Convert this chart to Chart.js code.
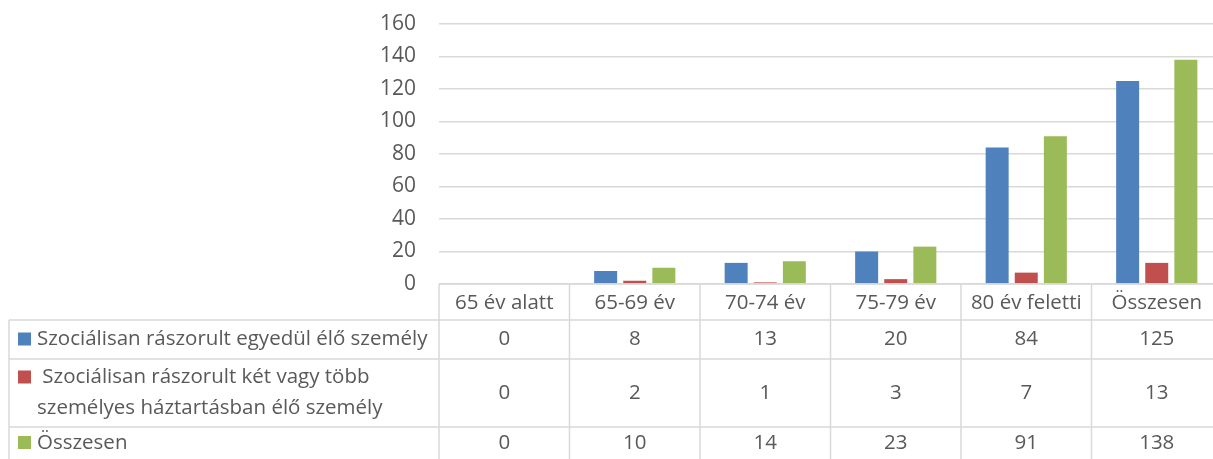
<!DOCTYPE html>
<html>
<head>
<meta charset="utf-8">
<script src="https://cdn.jsdelivr.net/npm/chart.js@4"></script>
<style>
  html, body { margin: 0; padding: 0; background: #fff; overflow: hidden; }
  #wrap { width: 1222px; height: 459px; position: relative; }
</style>
</head>
<body>
<div id="wrap"><canvas id="chart"></canvas></div>
<script>
/* ── Data ── */
const categories = ['65 év alatt', '65-69 év', '70-74 év', '75-79 év', '80 év feletti', 'Összesen'];
const seriesNames = [
  ['Szociálisan rászorult egyedül élő személy'],
  [' Szociálisan rászorult két vagy több', 'személyes háztartásban élő személy'],
  ['Összesen'],
];
const alone    = [0, 8, 13, 20, 84, 125];
const together = [0, 2, 1, 3, 7, 13];
const total    = [0, 10, 14, 23, 91, 138];
const yTicks   = [0, 20, 40, 60, 80, 100, 120, 140, 160];

const colors = ['#4F81BD', '#C0504D', '#9BBB59'];
const FONT = '"Open Sans"';
const TEXT = '#595959';
const LINE = '#D9D9D9';

/* ── Data table under the plot ── */
const dataTable = {
  id: 'dataTable',
  afterDraw(chart) {
    const { ctx, chartArea, scales: { x } } = chart;
    const series = [alone, together, total];
    const rows = [chartArea.bottom, 320, 359, 427, 470];   // row edges
    const half = (x.getPixelForValue(1) - x.getPixelForValue(0)) / 2;
    const edges = categories.map((c, i) => x.getPixelForValue(i) - half);
    edges.push(x.getPixelForValue(categories.length - 1) + half);

    ctx.save();
    ctx.strokeStyle = LINE;
    ctx.lineWidth = 1.5;
    ctx.beginPath();
    // horizontal
    ctx.moveTo(chartArea.left, rows[0]); ctx.lineTo(chartArea.right, rows[0]);
    for (let r = 1; r < 4; r++) { ctx.moveTo(9, rows[r]); ctx.lineTo(chartArea.right, rows[r]); }
    // vertical
    ctx.moveTo(9, rows[1]); ctx.lineTo(9, rows[4]);
    edges.forEach(e => { ctx.moveTo(e, rows[0]); ctx.lineTo(e, rows[4]); });
    ctx.stroke();

    ctx.fillStyle = TEXT;
    ctx.font = `20.5px ${FONT}`;
    ctx.textBaseline = 'middle';
    ctx.textAlign = 'center';
    categories.forEach((c, i) => ctx.fillText(c, x.getPixelForValue(i), (rows[0] + rows[1]) / 2 + 1));

    series.forEach((vals, s) => {
      const mid = s === 2 ? 443 : (rows[s + 1] + rows[s + 2]) / 2;
      ctx.textAlign = 'center';
      ctx.fillStyle = TEXT;
      vals.forEach((v, i) => ctx.fillText(String(v), x.getPixelForValue(i), mid));

      const lines = seriesNames[s];
      const lh = 31;
      const y0 = mid - (lines.length - 1) * lh / 2;
      ctx.fillStyle = colors[s];
      ctx.fillRect(18, y0 - 7, 13, 13);
      ctx.fillStyle = TEXT;
      ctx.textAlign = 'left';
      lines.forEach((t, k) => ctx.fillText(t, 37, y0 + k * lh));
    });
    ctx.restore();
  }
};

new Chart(document.getElementById('chart'), {
  type: 'bar',
  data: {
    labels: categories,
    datasets: [
      { label: seriesNames[0].join(' '), data: alone,    backgroundColor: colors[0] },
      { label: seriesNames[1].join(' '), data: together, backgroundColor: colors[1] },
      { label: seriesNames[2].join(' '), data: total,    backgroundColor: colors[2] },
    ],
  },
  options: {
    responsive: true, maintainAspectRatio: false,
    animation: false,
    datasets: { bar: { categoryPercentage: 0.669, barPercentage: 0.79 } },
    layout: { padding: { top: 24, right: 0, bottom: 175, left: 0 } },
    plugins: { legend: { display: false }, tooltip: { enabled: false } },
    scales: {
      x: { display: false },
      y: {
        min: 0, max: 160,
        afterFit: s => { s.width = 439; s.paddingTop = 0; s.paddingBottom = 0; },
        afterBuildTicks: s => { s.ticks = yTicks.map(v => ({ value: v })); },
        border: { display: false },
        grid: { color: LINE, lineWidth: 1.5, drawTicks: false },
        ticks: { color: TEXT, font: { family: 'Open Sans', size: 21 }, padding: 23 },
      },
    },
  },
  plugins: [dataTable],
});
</script>
</body>
</html>
